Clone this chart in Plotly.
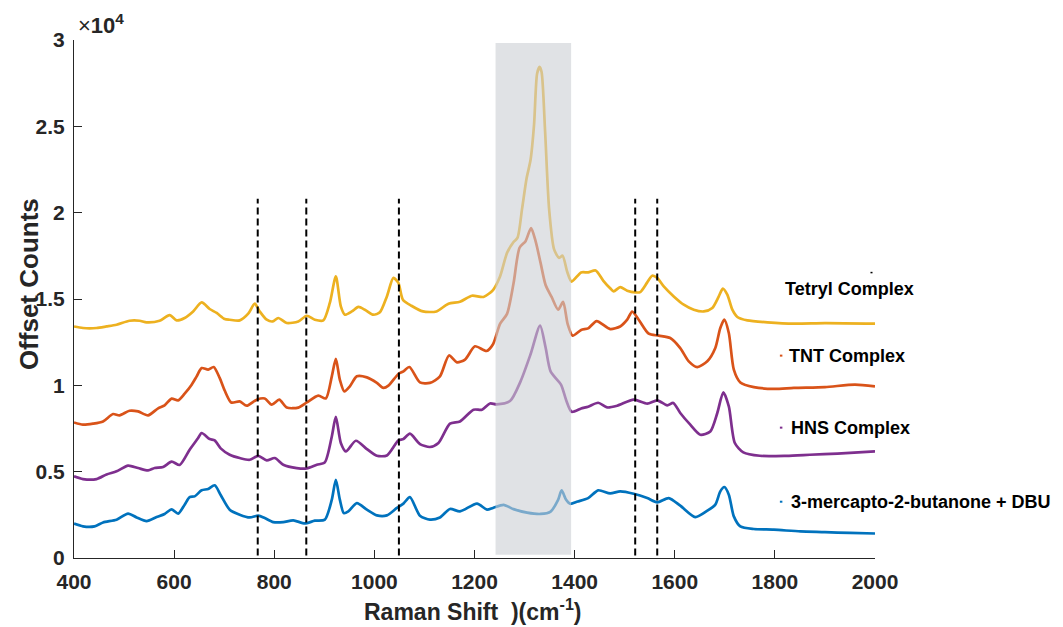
import plotly.graph_objects as go

# ---- spectra (Raman shift in cm^-1, offset counts) ----
mercapto_x = [400, 418, 441, 458, 485, 508, 525, 545, 565, 581, 595, 608, 621, 631, 641, 655, 668, 681, 693, 711,
              731, 751, 768, 781, 798, 818, 838, 861, 881, 901, 915, 923, 931, 939, 948, 965, 985, 1005, 1025, 1045,
              1058, 1071, 1091, 1111, 1131, 1151, 1171, 1205, 1225, 1237, 1258, 1278, 1305, 1332, 1352, 1367, 1374,
              1383, 1391, 1406, 1427, 1447, 1471, 1491, 1518, 1545, 1565, 1588, 1611, 1641, 1665, 1681, 1691, 1699,
              1708, 1718, 1731, 1758, 1798, 1851, 1900, 1950, 2000]
mercapto_y = [1990, 1830, 1830, 2060, 2220, 2570, 2350, 2140, 2370, 2550, 2820, 2570, 3090, 3530, 3570, 3920, 4000,
              4210, 3650, 2800, 2510, 2350, 2450, 2310, 2080, 2080, 2180, 2000, 2160, 2220, 3380, 4530, 3380, 2600,
              2700, 3180, 2800, 2470, 2470, 2900, 3150, 3530, 2450, 2220, 2350, 2840, 2700, 3150, 2800, 2900, 3080,
              2830, 2630, 2550, 2690, 3370, 3920, 3370, 3140, 3270, 3470, 3920, 3740, 3860, 3720, 3470, 3220, 3470,
              3030, 2370, 2740, 3090, 3860, 4110, 3670, 2410, 1830, 1680, 1640, 1540, 1500, 1450, 1420]

hns_x = [400, 418, 445, 465, 485, 508, 528, 548, 561, 578, 595, 611, 631, 648, 655, 671, 681, 693, 711, 731, 751,
         768, 785, 801, 818, 845, 865, 885, 901, 915, 923, 933, 943, 963, 985, 1005, 1025, 1048, 1058, 1071, 1091,
         1111, 1128, 1151, 1171, 1198, 1215, 1231, 1244, 1271, 1292, 1312, 1331, 1342, 1352, 1373, 1383, 1394, 1413,
         1427, 1447, 1465, 1485, 1518, 1545, 1565, 1585, 1597, 1611, 1631, 1651, 1671, 1685, 1697, 1708, 1720, 1737,
         1770, 1823, 1870, 1925, 2000]
hns_y = [4730, 4570, 4570, 4840, 5020, 5350, 5210, 5070, 5210, 5270, 5580, 5390, 6270, 6950, 7240, 6890, 6810, 6350,
         5980, 5790, 5690, 5920, 5650, 5790, 5400, 5210, 5190, 5400, 5540, 7040, 8170, 6660, 6170, 6790, 6310, 5920,
         5940, 6810, 6890, 7200, 6600, 6430, 6660, 7780, 7910, 8590, 8590, 8950, 8900, 9090, 10230, 11800, 13460,
         12190, 10810, 10030, 9150, 8470, 8660, 8760, 8990, 8720, 8820, 9170, 8940, 9130, 8840, 8980, 8400, 7720,
         7140, 7330, 8400, 9590, 8780, 6660, 6120, 5920, 5920, 5980, 6050, 6170]

tnt_x = [400, 418, 438, 458, 478, 491, 511, 528, 548, 568, 581, 595, 608, 621, 635, 645, 655, 668, 679, 691, 701,
         714, 731, 745, 765, 781, 795, 810, 825, 848, 865, 888, 903, 915, 923, 931, 940, 951, 965, 985, 1005, 1018,
         1028, 1048, 1058, 1070, 1091, 1111, 1131, 1149, 1165, 1181, 1201, 1224, 1237, 1251, 1265, 1278, 1290, 1302,
         1313, 1322, 1332, 1342, 1354, 1367, 1377, 1386, 1396, 1413, 1427, 1444, 1471, 1491, 1505, 1515, 1528, 1548,
         1568, 1591, 1611, 1628, 1645, 1665, 1681, 1691, 1699, 1708, 1718, 1731, 1758, 1798, 1838, 1900, 1960, 2000]
tnt_y = [7850, 7720, 7780, 7910, 8340, 8260, 8530, 8490, 8260, 8670, 8840, 9230, 9130, 9520, 10040, 10520, 11000,
         10910, 11060, 10430, 9700, 9010, 9070, 8820, 9170, 9240, 8880, 9170, 8710, 8710, 9010, 9400, 9240, 10520,
         11530, 10330, 9650, 9940, 10520, 10460, 10140, 9850, 9980, 10660, 10810, 11060, 10170, 10140, 10520, 11730,
         11330, 11490, 12260, 11990, 12380, 13560, 14140, 15910, 17970, 18350, 19100, 18350, 17090, 15810, 15120,
         14380, 14830, 13560, 12880, 13210, 13300, 13720, 13260, 13410, 13800, 14270, 13800, 12990, 12880, 12740,
         12160, 11390, 11060, 11390, 12160, 13320, 13800, 13030, 10910, 10170, 9900, 9790, 9850, 9900, 10040, 9940]

tetryl_x = [400, 418, 445, 465, 485, 511, 531, 545, 571, 591, 605, 621, 638, 655, 671, 685, 701, 711, 731, 748, 761,
            771, 785, 797, 808, 825, 848, 865, 881, 898, 911, 923, 933, 941, 955, 968, 981, 998, 1011, 1025, 1038,
            1048, 1057, 1074, 1097, 1124, 1148, 1171, 1195, 1218, 1237, 1251, 1265, 1278, 1286, 1295, 1304, 1312,
            1319, 1325, 1330, 1334, 1341, 1349, 1359, 1369, 1376, 1385, 1394, 1413, 1427, 1442, 1457, 1471, 1478,
            1491, 1505, 1521, 1531, 1545, 1555, 1565, 1578, 1598, 1618, 1638, 1658, 1675, 1688, 1696, 1705, 1715,
            1725, 1745, 1785, 1838, 1900, 2000]
tetryl_y = [13410, 13320, 13320, 13410, 13510, 13740, 13740, 13650, 13740, 14070, 13760, 13900, 14280, 14800, 14420,
            14190, 13840, 13800, 13760, 14150, 14730, 14280, 13800, 13700, 13900, 13610, 13700, 14030, 13800, 13760,
            14770, 16310, 14570, 14090, 14280, 14540, 14380, 14090, 14230, 15150, 16220, 15930, 14960, 14610, 14280,
            14280, 14730, 14840, 15190, 15120, 15520, 16300, 17670, 18300, 18550, 20220, 21980, 23060, 25110, 28050,
            28440, 28150, 24720, 20220, 17870, 17380, 17510, 16590, 16010, 16540, 16540, 16650, 16070, 15620, 15440,
            15690, 15480, 15380, 15400, 15960, 16350, 16220, 15730, 15150, 14670, 14380, 14280, 14480, 15150, 15600,
            15250, 14380, 13960, 13760, 13650, 13570, 13600, 13570]

series_names = ["3-mercapto-2-butanone + DBU", "HNS Complex", "TNT Complex", "Tetryl Complex"]
series_colors = ["#0072BD", "#7E2F8E", "#D95319", "#EDB120"]
label_y = [3260, 7550, 11720, 15600]
label_x = [1828, 1828, 1824, 1816]

# reference band positions and highlighted region
band_positions = [767, 864, 1049, 1521, 1565]
band_y_range = [150, 20800]
region_x = [1242, 1393]
region_y = [190, 29820]

x_ticks = [400, 600, 800, 1000, 1200, 1400, 1600, 1800, 2000]
y_ticks = [0, 5000, 10000, 15000, 20000, 25000, 30000]
y_ticktext = ["0", "0.5", "1", "1.5", "2", "2.5", "3"]

FONT = "Liberation Sans, Arial, sans-serif"
AXC = "#262626"

fig = go.Figure()
xs = [mercapto_x, hns_x, tnt_x, tetryl_x]
ys = [mercapto_y, hns_y, tnt_y, tetryl_y]
for name, color, x, y in zip(series_names, series_colors, xs, ys):
    fig.add_trace(go.Scatter(x=x, y=y, mode="lines", name=name,
                             line=dict(color=color, width=2.7, shape="spline", smoothing=0.7),
                             hoverinfo="skip"))

shapes = [dict(type="rect", xref="x", yref="y", x0=region_x[0], x1=region_x[1], y0=region_y[0], y1=region_y[1],
               fillcolor="rgba(204,207,211,0.6)", line=dict(width=0), layer="above")]
for bx in band_positions:
    shapes.append(dict(type="line", xref="x", yref="y", x0=bx, x1=bx, y0=band_y_range[0], y1=band_y_range[1],
                       line=dict(color="black", width=2, dash="7px,4px"), layer="above"))

annotations = []
for name, color, lx, ly in zip(series_names, series_colors, label_x, label_y):
    annotations.append(dict(x=lx, y=ly, xref="x", yref="y", text="<b>" + name + "</b>", showarrow=False,
                            xanchor="left", yanchor="middle", font=dict(family=FONT, size=18, color="black")))
# small colour ticks in front of the lower labels
for color, ly in zip(series_colors[:3], label_y[:3]):
    shapes.append(dict(type="line", xref="x", yref="y", x0=1810, x1=1815, y0=ly, y1=ly,
                       line=dict(color=color, width=2), layer="above"))
shapes.append(dict(type="line", xref="x", yref="y", x0=1991, x1=1995, y0=16530, y1=16530,
                   line=dict(color="black", width=1.5), layer="above"))

annotations.append(dict(x=0.002, y=1, xref="paper", yref="paper", xanchor="left", yanchor="bottom", yshift=0,
                        text="<span style='font-weight:normal'>×</span><b>10<sup>4</sup></b>", showarrow=False,
                        font=dict(family=FONT, size=22, color=AXC)))
annotations.append(dict(x=0.498, y=0, xref="paper", yref="paper", xanchor="center", yanchor="middle", yshift=-52,
                        text="<b>Raman Shift\u00a0 )(cm<sup>-1</sup>)</b>", showarrow=False,
                        font=dict(family=FONT, size=23, color=AXC)))
annotations.append(dict(x=-0.056, y=0.529, xref="paper", yref="paper", xanchor="center", yanchor="middle",
                        textangle=-90, text="<b>Offset Counts</b>", showarrow=False,
                        font=dict(family=FONT, size=26, color=AXC)))

fig.update_layout(
    width=1063, height=627, autosize=False,
    margin=dict(l=74, r=188, t=40, b=69),
    paper_bgcolor="white", plot_bgcolor="white",
    showlegend=False,
    shapes=shapes, annotations=annotations,
    font=dict(family=FONT, color=AXC),
    xaxis=dict(range=[400, 2000], tickvals=x_ticks, ticks="inside", ticklen=8, tickwidth=1, tickcolor=AXC,
               showline=True, linecolor=AXC, linewidth=1, showgrid=False, zeroline=False, mirror=False,
               tickfont=dict(family=FONT, size=21, color=AXC, weight="bold"), ticklabelstandoff=5),
    yaxis=dict(range=[0, 30000], tickvals=y_ticks, ticktext=y_ticktext, ticks="inside", ticklen=8, tickwidth=1,
               tickcolor=AXC, showline=True, linecolor=AXC, linewidth=1, showgrid=False, zeroline=False,
               mirror=False, tickfont=dict(family=FONT, size=21, color=AXC, weight="bold"), ticklabelstandoff=4),
)

fig.write_html("out.html")
